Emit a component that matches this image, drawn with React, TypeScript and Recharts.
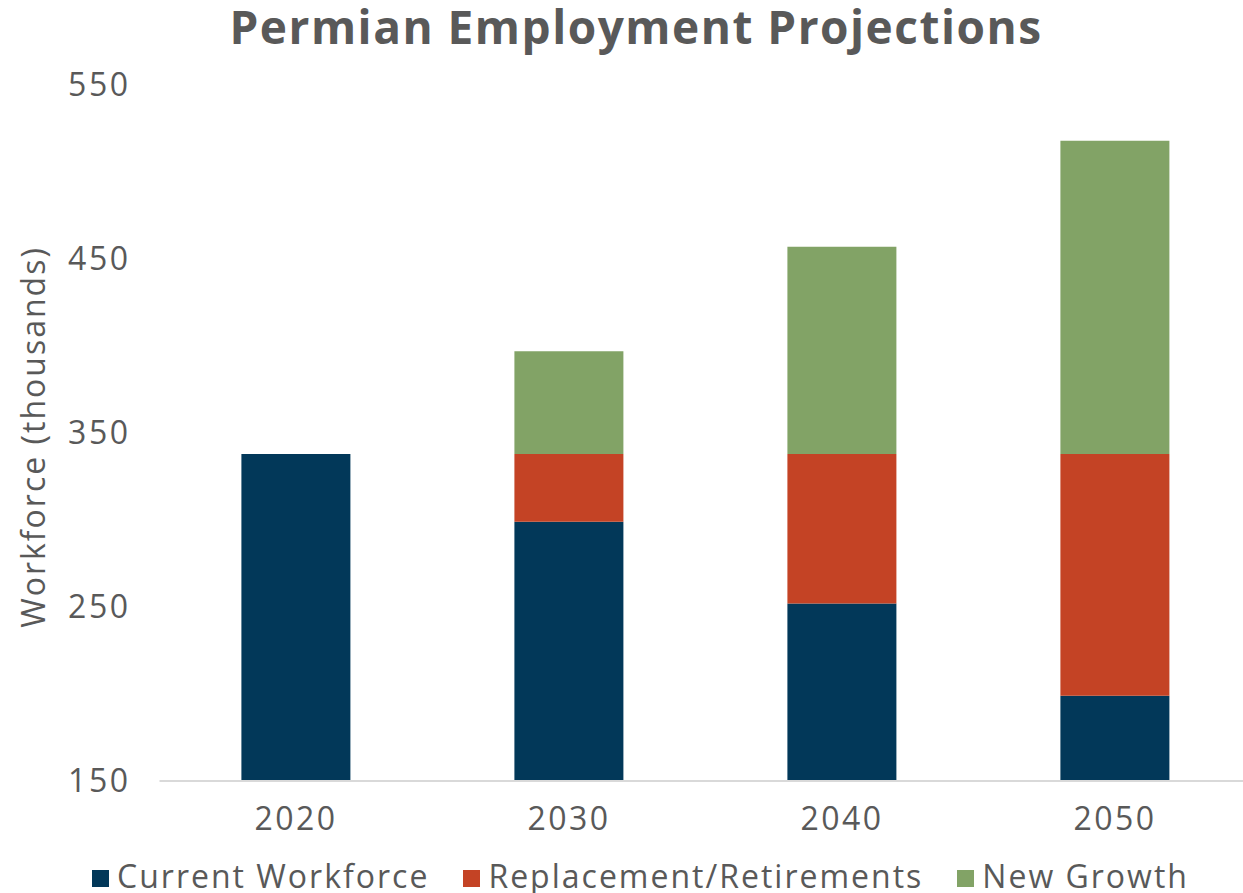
import { Bar, BarChart, Legend, XAxis, YAxis } from 'recharts'

const years = ['2020', '2030', '2040', '2050']
const currentWorkforce = [338, 299, 252, 199]
const replacement = [0, 39, 86, 139]
const newGrowth = [0, 59, 119, 180]
const yTicks = [150, 250, 350, 450, 550]

const FONT = '"Open Sans", sans-serif'
const TEXT = '#595959'

const series = [
  { key: 'current', name: 'Current Workforce', color: '#023859' },
  { key: 'replacement', name: 'Replacement/Retirements', color: '#c44325' },
  { key: 'growth', name: 'New Growth', color: '#82a366' },
]

const data = years.map((year, i) => ({
  year,
  current: currentWorkforce[i],
  replacement: replacement[i],
  growth: newGrowth[i],
}))

const tickStyle = { fill: TEXT, fontFamily: FONT, fontSize: 32, letterSpacing: 2.5 }

function ChartLegend() {
  return <div style={{ boxSizing: 'border-box', width: 1243, paddingLeft: 38, height: 36, display: 'flex', justifyContent: 'center', alignItems: 'center', gap: 34, fontFamily: FONT, fontSize: 32, color: TEXT, letterSpacing: 2 }}>
    {series.map((s) => <span key={s.key} style={{ display: 'flex', alignItems: 'center', gap: 8, whiteSpace: 'nowrap' }}>
      <i style={{ width: 17, height: 17, background: s.color, display: 'inline-block', marginTop: 6 }} />{s.name}
    </span>)}
  </div>
}

function YLabel({ viewBox }: { viewBox?: { x: number; y: number; width: number; height: number } }) {
  if (!viewBox) return null
  const cx = 32
  const cy = viewBox.y + viewBox.height / 2 + 4
  return <text x={cx} y={cy} transform={`rotate(-90, ${cx}, ${cy})`} textAnchor="middle" dominantBaseline="central" fill={TEXT} fontFamily={FONT} fontSize={32} letterSpacing={2}>Workforce (thousands)</text>
}

export default function App() {
  return <div style={{ position: 'absolute', top: 0, left: 0, width: 1243, height: 893, overflow: 'hidden', background: '#fff' }}>
    <div style={{ position: 'absolute', top: 3, left: 0, boxSizing: 'border-box', width: 1243, paddingLeft: 29, textAlign: 'center', fontFamily: FONT, fontWeight: 700, fontSize: 46, letterSpacing: 1.5, lineHeight: 1, color: TEXT, whiteSpace: 'nowrap' }}>Permian Employment Projections</div>
    <BarChart width={1260} height={893} data={data} barCategoryGap="30%" margin={{ top: 85, right: 8.5, bottom: 0, left: 0 }}>
      <XAxis dataKey="year" height={76} tickLine={false} axisLine={{ stroke: '#d9d9d9', strokeWidth: 2 }} tickMargin={20} tick={tickStyle} />
      <YAxis width={159.5} domain={[150, 550]} ticks={yTicks} allowDataOverflow axisLine={false} tickLine={false} tickMargin={23} tick={tickStyle} label={<YLabel />} />
      <Legend verticalAlign="bottom" wrapperStyle={{ left: 0, width: 1243 }} content={<ChartLegend />} />
      {series.map((s) => <Bar key={s.key} dataKey={s.key} name={s.name} stackId="a" fill={s.color} isAnimationActive={false} />)}
    </BarChart>
  </div>
}
